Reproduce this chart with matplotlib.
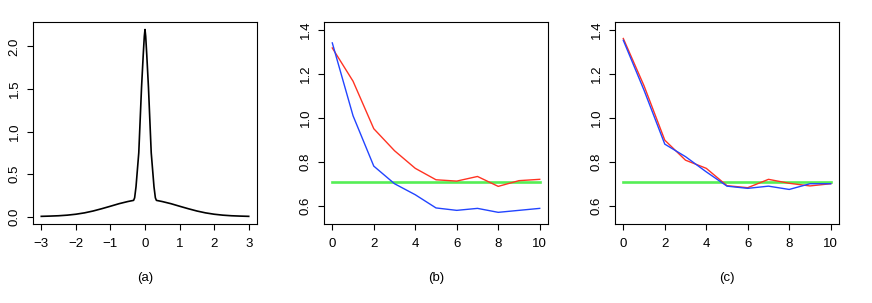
import numpy as np
import matplotlib
matplotlib.use("Agg")
import matplotlib.pyplot as plt

plt.rcParams['font.family'] = ['Liberation Sans', 'DejaVu Sans']
plt.rcParams['font.size'] = 9.5

# panel (a): density curve
dens_x = [-3.0, -2.75, -2.5, -2.25, -2.0, -1.75, -1.5, -1.25, -1.0, -0.75, -0.5,
          -0.33, -0.3, -0.26, -0.18, -0.1, -0.05, -0.02, 0.0,
          0.02, 0.05, 0.1, 0.18, 0.26, 0.3, 0.33,
          0.5, 0.75, 1.0, 1.25, 1.5, 1.75, 2.0, 2.25, 2.5, 2.75, 3.0]
dens_y = [0.002, 0.005, 0.009, 0.016, 0.027, 0.043, 0.065, 0.092, 0.121, 0.151, 0.176,
          0.19, 0.22, 0.35, 0.75, 1.52, 1.91, 2.12, 2.2,
          2.12, 1.91, 1.52, 0.75, 0.35, 0.22, 0.19,
          0.176, 0.151, 0.121, 0.092, 0.065, 0.043, 0.027, 0.016, 0.009, 0.005, 0.002]

# panels (b) and (c)
steps = list(range(11))
b_red = [1.318, 1.167, 0.951, 0.851, 0.771, 0.719, 0.713, 0.734, 0.689, 0.715, 0.721]
b_blue = [1.341, 1.010, 0.781, 0.701, 0.651, 0.591, 0.580, 0.589, 0.571, 0.580, 0.589]
c_red = [1.361, 1.146, 0.899, 0.808, 0.771, 0.692, 0.683, 0.721, 0.703, 0.691, 0.701]
c_blue = [1.353, 1.126, 0.881, 0.824, 0.755, 0.690, 0.680, 0.690, 0.675, 0.701, 0.701]
target = 0.709

labels = ['(a)', '(b)', '(c)']
lefts = [33, 324, 615]

RED = '#ff3322'
BLUE = '#2244ff'
GREEN = '#55ee55'

fig = plt.figure(figsize=(8.72, 3.03), dpi=100)
axes = []
for l in lefts:
    ax = fig.add_axes([l / 872, 1 - 224 / 303, 224 / 872, 202 / 303])
    for s in ax.spines.values():
        s.set_linewidth(0.8)
    ax.tick_params(direction='out', length=4.3, width=0.8)
    ax.tick_params(axis='x', pad=6)
    ax.tick_params(axis='y', pad=4.5)
    axes.append(ax)

ax = axes[0]
ax.plot(dens_x, dens_y, color='black', lw=1.2)
ax.set_xlim(-3.24, 3.24)
ax.set_ylim(-0.088, 2.288)
ax.set_xticks([-3, -2, -1, 0, 1, 2, 3])
ax.set_yticks([0.0, 0.5, 1.0, 1.5, 2.0])
ax.set_yticklabels(['0.0', '0.5', '1.0', '1.5', '2.0'], rotation=90, va='center')

for ax, red, blue in [(axes[1], b_red, b_blue), (axes[2], c_red, c_blue)]:
    ax.plot(steps, [target] * len(steps), color=GREEN, lw=1.9)
    ax.plot(steps, red, color=RED, lw=1.0)
    ax.plot(steps, blue, color=BLUE, lw=1.0)
    ax.set_xlim(-0.4, 10.4)
    ax.set_ylim(0.518, 1.436)
    ax.set_xticks([0, 2, 4, 6, 8, 10])
    ax.set_yticks([0.6, 0.8, 1.0, 1.2, 1.4])
    ax.set_yticklabels(['0.6', '0.8', '1.0', '1.2', '1.4'], rotation=90, va='center')

for l, lab in zip(lefts, labels):
    fig.text((l + 112) / 872, 1 - 277.7 / 303, lab, ha='center', va='center', fontsize=9.5)

fig.savefig('out.png', dpi=100)
